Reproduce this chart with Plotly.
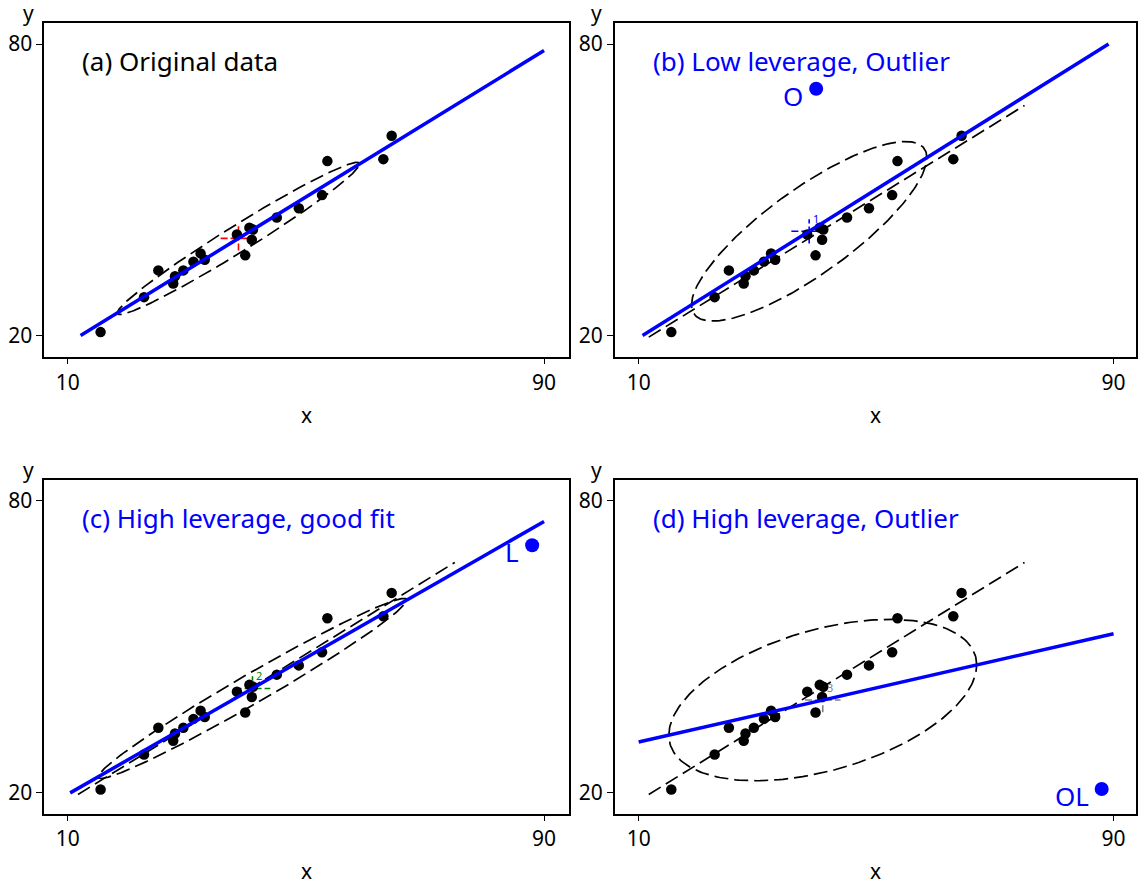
import numpy as np
import plotly.graph_objects as go

# ---- data ---------------------------------------------------------------
# original 20 observations
x_orig = [15.5, 22.8, 25.2, 27.7, 28.0, 29.4, 31.1, 32.3, 33.0, 38.4,
          39.8, 40.5, 41.1, 40.9, 45.1, 48.8, 52.7, 53.6, 63.0, 64.4]
y_orig = [20.7, 27.9, 33.4, 30.7, 32.2, 33.4, 35.2, 36.9, 35.6, 40.8,
          36.5, 42.2, 41.8, 39.7, 44.3, 46.2, 48.9, 55.9, 56.3, 61.1]

# unusual observation added in panels (b), (c), (d)
extra_labels = ["O", "L", "OL"]
extra_x = [39.9, 88.0, 88.0]
extra_y = [70.8, 70.9, 20.8]

panel_titles = ["(a) Original data", "(b) Low leverage, Outlier",
                "(c) High leverage, good fit", "(d) High leverage, Outlier"]
title_colors = ["black", "blue", "blue", "blue"]
center_colors = ["red", "blue", "green", "gray"]
center_labels = ["", "1", "2", "3"]

x_ticks = [10, 90]
y_ticks = [20, 80]

LEVEL = 0.68                 # data-ellipse coverage
CLIP_X = (10, 90)            # fitted lines are clipped to this box
CLIP_Y = (20, 80)
REF_X = (11.7, 75.0)         # span of the dashed original-data fit

FONT = "Noto Sans"

# ---- helpers ------------------------------------------------------------
def fit(x, y):
    b, a = np.polyfit(x, y, 1)
    return a, b

def clipped_segment(a, b):
    x0, x1 = CLIP_X
    y0, y1 = CLIP_Y
    lo, hi = x0, x1
    if b > 0:
        lo = max(lo, (y0 - a) / b)
        hi = min(hi, (y1 - a) / b)
    elif b < 0:
        lo = max(lo, (y1 - a) / b)
        hi = min(hi, (y0 - a) / b)
    xs = np.array([lo, hi])
    return xs, a + b * xs

def ellipse(x, y, level):
    x = np.asarray(x, float)
    y = np.asarray(y, float)
    n = len(x)
    d2 = n - 1
    # F(2, n-1) quantile in closed form
    fq = (d2 / 2.0) * ((1 - level) ** (-2.0 / d2) - 1)
    r = np.sqrt(2 * fq)
    cov = np.cov(np.vstack([x, y]))
    L = np.linalg.cholesky(cov)
    t = np.linspace(0, 2 * np.pi, 241)
    pts = L @ np.vstack([np.cos(t), np.sin(t)]) * r
    return x.mean() + pts[0], y.mean() + pts[1]

# ---- layout geometry ----------------------------------------------------
W, H = 1138, 884
xdom = {"L": [44.3 / W, 570 / W], "R": [615.7 / W, 1.0]}
xrng = {"L": [6.03, 94.19], "R": [5.95, 93.78]}
ydom = {"T": [1 - 356.7 / H, 1 - 23.3 / H], "B": [1 - 813.5 / H, 1 - 480 / H]}
yrng = {"T": [15.64, 84.26], "B": [15.76, 84.3]}
panels = [("L", "T"), ("R", "T"), ("L", "B"), ("R", "B")]

fig = go.Figure()
annotations = []

a0, b0 = fit(x_orig, y_orig)

for i in range(4):
    col, row = panels[i]
    sfx = "" if i == 0 else str(i + 1)
    xa, ya = "x" + sfx, "y" + sfx

    if i == 0:
        xs, ys = list(x_orig), list(y_orig)
    else:
        xs = list(x_orig) + [extra_x[i - 1]]
        ys = list(y_orig) + [extra_y[i - 1]]

    # data ellipse
    ex, ey = ellipse(xs, ys, LEVEL)
    fig.add_trace(go.Scatter(x=ex, y=ey, mode="lines", xaxis=xa, yaxis=ya,
                             line=dict(color="black", width=1.7, dash="14px,6px"),
                             hoverinfo="skip", showlegend=False))

    # original-data fit as dashed reference
    if i > 0:
        rx = np.array(REF_X)
        fig.add_trace(go.Scatter(x=rx, y=a0 + b0 * rx, mode="lines",
                                 xaxis=xa, yaxis=ya,
                                 line=dict(color="black", width=1.7, dash="14px,6px"),
                                 hoverinfo="skip", showlegend=False))

    # centroid cross
    mx, my = float(np.mean(xs)), float(np.mean(ys))
    cc = center_colors[i]
    fig.add_trace(go.Scatter(x=[mx - 3.0, mx + 3.0, None, mx, mx],
                             y=[my, my, None, my - 2.5, my + 2.5],
                             mode="lines", xaxis=xa, yaxis=ya,
                             line=dict(color=cc, width=1.6, dash="7px,3px"),
                             hoverinfo="skip", showlegend=False))
    if center_labels[i]:
        annotations.append(dict(x=mx, y=my, xref=xa, yref=ya,
                                text=center_labels[i], showarrow=False,
                                xanchor="left", yanchor="bottom",
                                xshift=2, yshift=3,
                                font=dict(family=FONT, size=11, color=cc)))

    # original points
    fig.add_trace(go.Scatter(x=x_orig, y=y_orig, mode="markers",
                             xaxis=xa, yaxis=ya,
                             marker=dict(color="black", size=10.5),
                             hoverinfo="skip", showlegend=False))

    # fitted line for this panel's data
    a, b = fit(xs, ys)
    lx, ly = clipped_segment(a, b)
    fig.add_trace(go.Scatter(x=lx, y=ly, mode="lines", xaxis=xa, yaxis=ya,
                             line=dict(color="blue", width=3.5),
                             hoverinfo="skip", showlegend=False))

    # unusual point
    if i > 0:
        px, py = extra_x[i - 1], extra_y[i - 1]
        fig.add_trace(go.Scatter(x=[px], y=[py], mode="markers",
                                 xaxis=xa, yaxis=ya,
                                 marker=dict(color="blue", size=14),
                                 hoverinfo="skip", showlegend=False))
        annotations.append(dict(x=px, y=py, xref=xa, yref=ya,
                                text=extra_labels[i - 1], showarrow=False,
                                xanchor="right", yanchor="middle",
                                xshift=-11, yshift=-7,
                                font=dict(family=FONT, size=26, color="blue")))

    # panel title
    annotations.append(dict(x=12, y=76.5, xref=xa, yref=ya,
                            text=panel_titles[i], showarrow=False,
                            xanchor="left", yanchor="middle",
                            font=dict(family=FONT, size=26, color=title_colors[i])))

    # axis names
    xd = xdom[col]
    annotations.append(dict(x=(xd[0] * W + min(xd[1] * W, W)) / 2 / W,
                            y=1 - (415 if row == "T" else 871) / H,
                            xref="paper", yref="paper", text="x", showarrow=False,
                            xanchor="center", yanchor="middle",
                            font=dict(family=FONT, size=21, color="black")))
    annotations.append(dict(x=(29 if col == "L" else 598) / W,
                            y=1 - (13 if row == "T" else 470) / H,
                            xref="paper", yref="paper", text="y", showarrow=False,
                            xanchor="center", yanchor="middle",
                            font=dict(family=FONT, size=21, color="black")))

    axis_common = dict(showgrid=False, zeroline=False, showline=True, mirror=True,
                       linecolor="black", linewidth=1.5, ticks="outside",
                       ticklen=6, tickwidth=1.3, tickcolor="black",
                       tickfont=dict(family=FONT, size=21, color="black"))
    fig.layout["xaxis" + sfx] = dict(domain=xdom[col], range=xrng[col],
                                     tickvals=x_ticks, anchor=ya, **axis_common)
    fig.layout["yaxis" + sfx] = dict(domain=ydom[row], range=yrng[row],
                                     tickvals=y_ticks, anchor=xa, **axis_common)

fig.update_layout(width=W, height=H, margin=dict(l=0, r=0, t=0, b=0),
                  paper_bgcolor="white", plot_bgcolor="white",
                  annotations=annotations, font=dict(family=FONT))

fig.write_html("out.html")
